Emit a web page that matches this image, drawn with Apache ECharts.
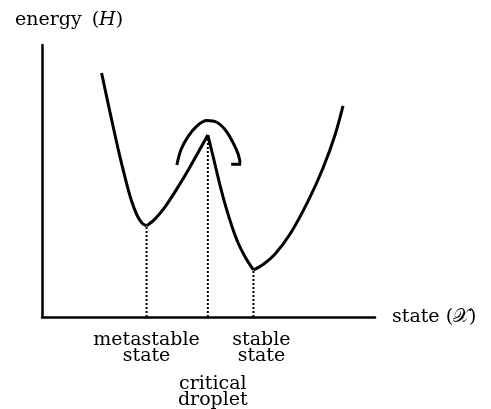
<!DOCTYPE html>
<html>
<head>
<meta charset="utf-8">
<script src="https://cdn.jsdelivr.net/npm/echarts@6/dist/echarts.min.js"></script>
<style>
  html, body { margin: 0; padding: 0; background: #fff; }
  #chart { width: 491px; height: 409px; }
</style>
</head>
<body>
<div id="chart"></div>
<script>
// energy landscape, state on x (0..10), energy on y (0..10)
var leftWell    = [[1.79, 8.97], [2.04, 7.54], [2.28, 6.21], [2.49, 5.15], [2.67, 4.34], [2.85, 3.75], [3.00, 3.46], [3.14, 3.35]];
var barrierRise = [[3.14, 3.35], [3.39, 3.60], [3.69, 4.04], [4.05, 4.71], [4.44, 5.51], [4.98, 6.69]];
var barrierFall = [[4.98, 6.69], [5.17, 5.74], [5.35, 4.82], [5.53, 4.01], [5.71, 3.31], [5.89, 2.72], [6.10, 2.21], [6.35, 1.73]];
var rightWell   = [[6.35, 1.73], [6.64, 1.93], [7.00, 2.32], [7.45, 3.05], [7.99, 4.26], [8.44, 5.48], [8.80, 6.69], [9.04, 7.76]];

// hopping arrow over the barrier
var hopArc  = [[4.05, 5.59], [4.17, 6.14], [4.38, 6.62], [4.65, 7.02], [4.95, 7.22], [5.26, 7.15], [5.53, 6.84], [5.74, 6.40], [5.89, 5.99], [5.95, 5.66]];
var hopBarb = [[5.68, 5.62], [5.98, 5.62]];

// marked states: x position, energy, label
var stateX      = [3.14, 4.98, 6.35];
var stateEnergy = [3.35, 6.69, 1.73];
var stateNames  = ['metastable\nstate', 'critical\ndroplet', 'stable\nstate'];

var serif = 'DejaVu Serif';
var ink = '#000';

var chart = echarts.init(document.getElementById('chart'));

function curve(data) {
   return {
      type: 'line',
      data: data,
      smooth: 0.3,
      showSymbol: false,
      symbol: 'none',
      silent: true,
      lineStyle: { color: ink, width: 3 }
   };
}

var series = [curve(leftWell), curve(barrierRise), curve(barrierFall), curve(rightWell), curve(hopArc)];
series.push({
   type: 'line', data: hopBarb, symbol: 'none', silent: true,
   lineStyle: { color: ink, width: 3 }
});

// dotted drop lines down to the state axis
stateX.forEach(function(x, i) {
   series.push({
      type: 'line',
      data: [[x, 0], [x, stateEnergy[i]]],
      symbol: 'none',
      silent: true,
      z: 1,
      lineStyle: { color: ink, width: 2, type: [2, 2] }
   });
});

// state labels under the axis (critical droplet sits one row lower)
var labelShift = [[0, 31], [5, 75], [8, 31]];
series.push({
   type: 'scatter',
   symbolSize: 0,
   silent: true,
   itemStyle: { opacity: 1 },
   data: stateX.map(function(x, i) {
      return {
         value: [x, 0],
         label: { offset: labelShift[i] }
      };
   }),
   label: {
      show: true,
      position: 'inside',
      formatter: function(p) { return stateNames[p.dataIndex]; },
      fontFamily: serif,
      fontSize: 19,
      lineHeight: 16,
      color: ink,
      opacity: 1,
      align: 'center',
      verticalAlign: 'middle'
   }
});

var option = {
   backgroundColor: '#fff',
   animation: false,
   title: {
      text: '{n|energy}  {n|(}{i|H}{n|)}',
      left: 10,
      top: 6,
      textStyle: {
         rich: {
            n: { fontFamily: serif, fontSize: 19, fontWeight: 'normal', color: ink },
            i: { fontFamily: serif, fontSize: 19, fontWeight: 'normal', fontStyle: 'italic', color: ink }
         }
      }
   },
   grid: { left: 42, right: 116, top: 45, bottom: 92 },
   xAxis: {
      type: 'value',
      min: 0,
      max: 10,
      name: 'state (\uD835\uDCB3)',
      nameLocation: 'end',
      nameGap: 17,
      nameTextStyle: { fontFamily: serif, fontSize: 19, color: ink, verticalAlign: 'middle' },
      axisLine: { show: true, lineStyle: { color: ink, width: 2.5 } },
      axisTick: { show: false },
      axisLabel: { show: false },
      splitLine: { show: false }
   },
   yAxis: {
      type: 'value',
      min: 0,
      max: 10,
      axisLine: { show: true, lineStyle: { color: ink, width: 2.5 } },
      axisTick: { show: false },
      axisLabel: { show: false },
      splitLine: { show: false }
   },
   series: series
};

chart.setOption(option);
</script>
</body>
</html>
